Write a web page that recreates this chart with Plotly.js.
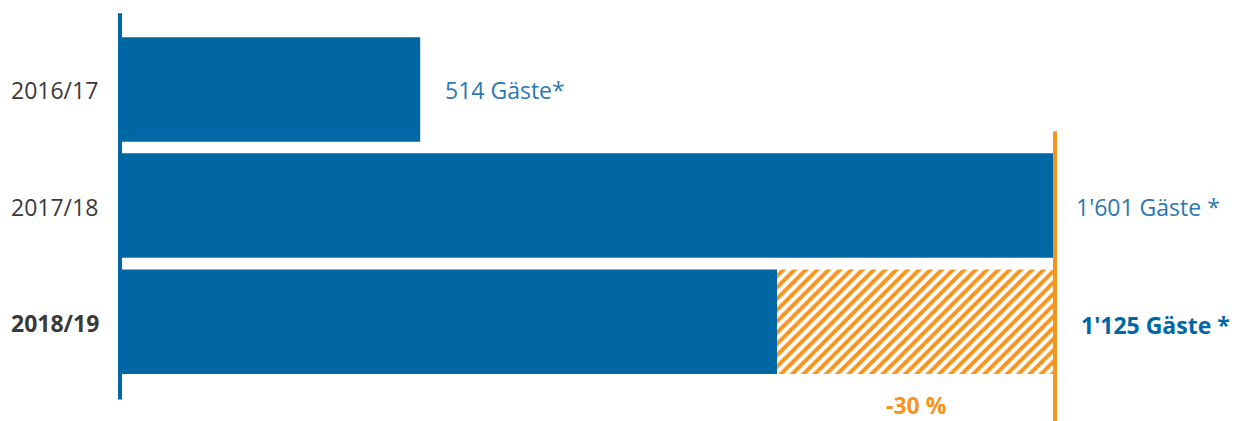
<!DOCTYPE html>
<html><head><meta charset="utf-8">
<script src="https://cdn.plot.ly/plotly-3.0.1.min.js"></script>
<style>html,body{margin:0;padding:0;background:#fff}#c{width:1242px;height:421px}</style>
</head><body><div id="c"></div>
<script>
const categories = ["2016/17", "2017/18", "2018/19"];
const guests = [514, 1601, 1125];
const valueLabels = ["514 Gäste*", "1'601 Gäste *", "1'125 Gäste *"];
const changeLabel = "-30 %";

const BLUE = "#0067a5", ORANGE = "#f7941d", LABEL_BLUE = "#2b77b3";
const FONT = "Open Sans, Noto Sans, sans-serif";
const FS = 23;
const idx = categories.map((_, i) => i);
const prev = guests[1], cur = guests[2];

const traces = [
  {type: "bar", orientation: "h", y: idx, x: guests, width: 0.9,
   marker: {color: BLUE, line: {width: 0}}, hoverinfo: "skip"},
  {type: "bar", orientation: "h", y: [idx[2]], x: [prev - cur], base: [cur], width: 0.9,
   marker: {color: "#ffffff", line: {width: 0},
            pattern: {shape: "/", fgcolor: ORANGE, bgcolor: "#ffffff", size: 8, solidity: 0.5}},
   hoverinfo: "skip"}
];

const annotations = [];
categories.forEach((c, i) => {
  const last = i === categories.length - 1;
  annotations.push({xref: "paper", x: 0, xanchor: "left", xshift: -105, y: i, yref: "y", yshift: -1,
    text: last ? "<b>" + c + "</b>" : c, showarrow: false,
    font: {family: FONT, size: FS, color: "#3a3a3a"}});
});
annotations.push({x: guests[0], y: 0, xanchor: "left", xshift: 23, yshift: -1, text: valueLabels[0], showarrow: false,
  font: {family: FONT, size: FS, color: LABEL_BLUE}});
annotations.push({x: guests[1], y: 1, xanchor: "left", xshift: 19, yshift: -1, text: valueLabels[1], showarrow: false,
  font: {family: FONT, size: FS, color: LABEL_BLUE}});
annotations.push({x: prev, y: 2, xanchor: "left", xshift: 24, yshift: -3, text: "<b>" + valueLabels[2] + "</b>", showarrow: false,
  font: {family: FONT, size: FS, color: BLUE}});
annotations.push({x: (prev + cur) / 2, y: 2.72, xanchor: "center", text: "<b>" + changeLabel + "</b>", showarrow: false,
  font: {family: FONT, size: FS, color: ORANGE}});

const layout = {
  width: 1242, height: 421,
  margin: {l: 114, r: 0, t: 0, b: 0},
  paper_bgcolor: "#fff", plot_bgcolor: "#fff",
  barmode: "overlay", showlegend: false,
  xaxis: {range: [-10.27, 1921.2], visible: false, fixedrange: true},
  yaxis: {range: [2.855, -0.77], visible: false, fixedrange: true},
  shapes: [
    {type: "line", xref: "x", yref: "y", x0: 0, x1: 0, y0: -0.655, y1: 2.67,
     line: {color: BLUE, width: 4}},
    {type: "line", xref: "x", yref: "y", x0: prev, x1: prev, y0: 0.362, y1: 2.87,
     line: {color: ORANGE, width: 4}}
  ],
  annotations: annotations
};
Plotly.newPlot("c", traces, layout, {staticPlot: true, displayModeBar: false});
</script></body></html>
